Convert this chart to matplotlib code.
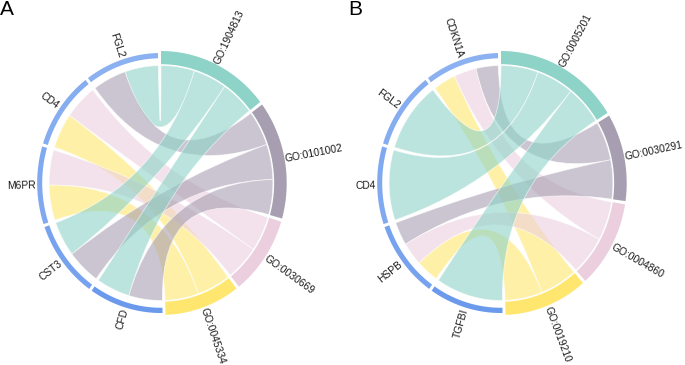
import numpy as np
import matplotlib
matplotlib.use("Agg")
import matplotlib.pyplot as plt
from matplotlib.path import Path
from matplotlib.patches import PathPatch, Polygon

plt.rcParams["font.family"] = ["Liberation Sans", "DejaVu Sans"]

# ── Data ──────────────────────────────────────────────────────────────────────
# genes listed top -> bottom on the left half, terms top -> bottom on the right

A_GENES = ["FGL2", "CD4", "M6PR", "CST3", "CFD"]
A_TERMS = ["GO:1904813", "GO:0101002", "GO:0030669", "GO:0045334"]
A_LINKS = {
    "FGL2": ["GO:1904813", "GO:0101002"],
    "CD4":  ["GO:0030669", "GO:0045334"],
    "M6PR": ["GO:0030669", "GO:0045334"],
    "CST3": ["GO:1904813", "GO:0101002"],
    "CFD":  ["GO:1904813", "GO:0101002"],
}

B_GENES = ["CDKN1A", "FGL2", "CD4", "HSPB", "TGFBI"]
B_TERMS = ["GO:0005201", "GO:0030291", "GO:0004860", "GO:0019210"]
B_LINKS = {
    "CDKN1A": ["GO:0030291", "GO:0004860", "GO:0019210"],
    "FGL2":   ["GO:0005201"],
    "CD4":    ["GO:0005201"],
    "HSPB":   ["GO:0030291", "GO:0004860", "GO:0019210"],
    "TGFBI":  ["GO:0005201"],
}

TERM_COLORS = ["#8dd3c7", "#a79fb1", "#ebcfdf", "#ffe76f"]
GENE_COLORS = ["#8cb1f1", "#86adf0", "#80a9ef", "#77a2ee", "#6b9aed"]

# ── Layout (pixels) ───────────────────────────────────────────────────────────
FIG_W, FIG_H = 685, 365
RX, RY = 125.7, 132.0
CY = 183.0
PAD = np.deg2rad(1.4)

R_TERM_OUT, R_TERM_IN = 1.0, 0.9
R_GENE_OUT, R_GENE_IN = 0.985, 0.945
R_CHORD = 0.89
CHORD_ALPHA = 0.6
FONT = 7.4


def polar(cx, th, r):
    # th: clockwise from 12 o'clock
    return cx + RX * r * np.sin(th), CY - RY * r * np.cos(th)


def arc_pts(cx, t0, t1, r, n=40):
    th = np.linspace(t0, t1, n)
    x, y = polar(cx, th, r)
    return np.column_stack([x, y])


def ring(ax, cx, t0, t1, r_in, r_out, color):
    pts = np.vstack([arc_pts(cx, t0, t1, r_out), arc_pts(cx, t1, t0, r_in)])
    ax.add_patch(Polygon(pts, closed=True, facecolor=color, edgecolor="none", zorder=3))


def ribbon(ax, cx, s, t, color):
    c = (cx, CY)
    src = arc_pts(cx, s[0], s[1], R_CHORD)
    tgt = arc_pts(cx, t[0], t[1], R_CHORD)
    verts = list(src) + [c, tuple(tgt[0])] + list(tgt[1:]) + [c, tuple(src[0]), tuple(src[0])]
    codes = ([Path.MOVETO] + [Path.LINETO] * (len(src) - 1)
             + [Path.CURVE3, Path.CURVE3] + [Path.LINETO] * (len(tgt) - 1)
             + [Path.CURVE3, Path.CURVE3, Path.CLOSEPOLY])
    ax.add_patch(PathPatch(Path(verts, codes), facecolor=color, edgecolor="white",
                           linewidth=0.6, alpha=CHORD_ALPHA, zorder=2))


def label(ax, cx, th, r, text):
    x, y = polar(cx, th, r)
    ang = np.degrees(np.arctan2(RY * np.cos(th), RX * np.sin(th)))
    if np.sin(th) >= 0:
        ax.text(x, y, text, rotation=ang, ha="left", va="center",
                rotation_mode="anchor", fontsize=FONT, color="#1a1a1a")
    else:
        ax.text(x, y, text, rotation=ang + 180, ha="right", va="center",
                rotation_mode="anchor", fontsize=FONT, color="#1a1a1a")


def draw_chord(ax, cx, genes, terms, links):
    n_links = sum(len(v) for v in links.values())
    k = (2 * np.pi - PAD * (len(genes) + len(terms))) / (2 * n_links)
    gene_val = n_links / len(genes)

    # group spans, clockwise from the top: terms first, then genes bottom -> top
    theta = 0.0
    term_span = {}
    for t in terms:
        deg = sum(t in links[g] for g in genes)
        term_span[t] = (theta, theta + deg * k)
        theta += deg * k + PAD
    gene_span = {}
    for g in reversed(genes):
        gene_span[g] = (theta, theta + gene_val * k)
        theta += gene_val * k + PAD

    # slots inside each group
    gene_slot = {}
    for g in genes:
        t0, t1 = gene_span[g]
        ts = [t for t in reversed(terms) if t in links[g]]
        w = (t1 - t0) / len(ts)
        for i, t in enumerate(ts):
            gene_slot[(g, t)] = (t0 + i * w, t0 + (i + 1) * w)
    term_slot = {}
    for t in terms:
        t0 = term_span[t][0]
        for i, g in enumerate([g for g in genes if t in links[g]]):
            term_slot[(g, t)] = (t0 + i * k, t0 + (i + 1) * k)

    for g in genes:
        for t in links[g]:
            ribbon(ax, cx, gene_slot[(g, t)], term_slot[(g, t)],
                   TERM_COLORS[terms.index(t)])

    for i, t in enumerate(terms):
        t0, t1 = term_span[t]
        ring(ax, cx, t0, t1, R_TERM_IN, R_TERM_OUT, TERM_COLORS[i])
        label(ax, cx, (t0 + t1) / 2, 1.005, t)
    for i, g in enumerate(genes):
        t0, t1 = gene_span[g]
        ring(ax, cx, t0, t1, R_GENE_IN, R_GENE_OUT, GENE_COLORS[i])
        label(ax, cx, (t0 + t1) / 2, 1.0, g)


fig = plt.figure(figsize=(FIG_W / 100, FIG_H / 100), dpi=100)
ax = fig.add_axes([0, 0, 1, 1])
ax.set_xlim(0, FIG_W)
ax.set_ylim(FIG_H, 0)
ax.axis("off")

draw_chord(ax, 161.0, A_GENES, A_TERMS, A_LINKS)
draw_chord(ax, 501.0, B_GENES, B_TERMS, B_LINKS)

ax.text(0, 0, "A", fontsize=15, ha="left", va="top")
ax.text(348, 0, "B", fontsize=15, ha="left", va="top")

fig.savefig("out.png", dpi=100)
